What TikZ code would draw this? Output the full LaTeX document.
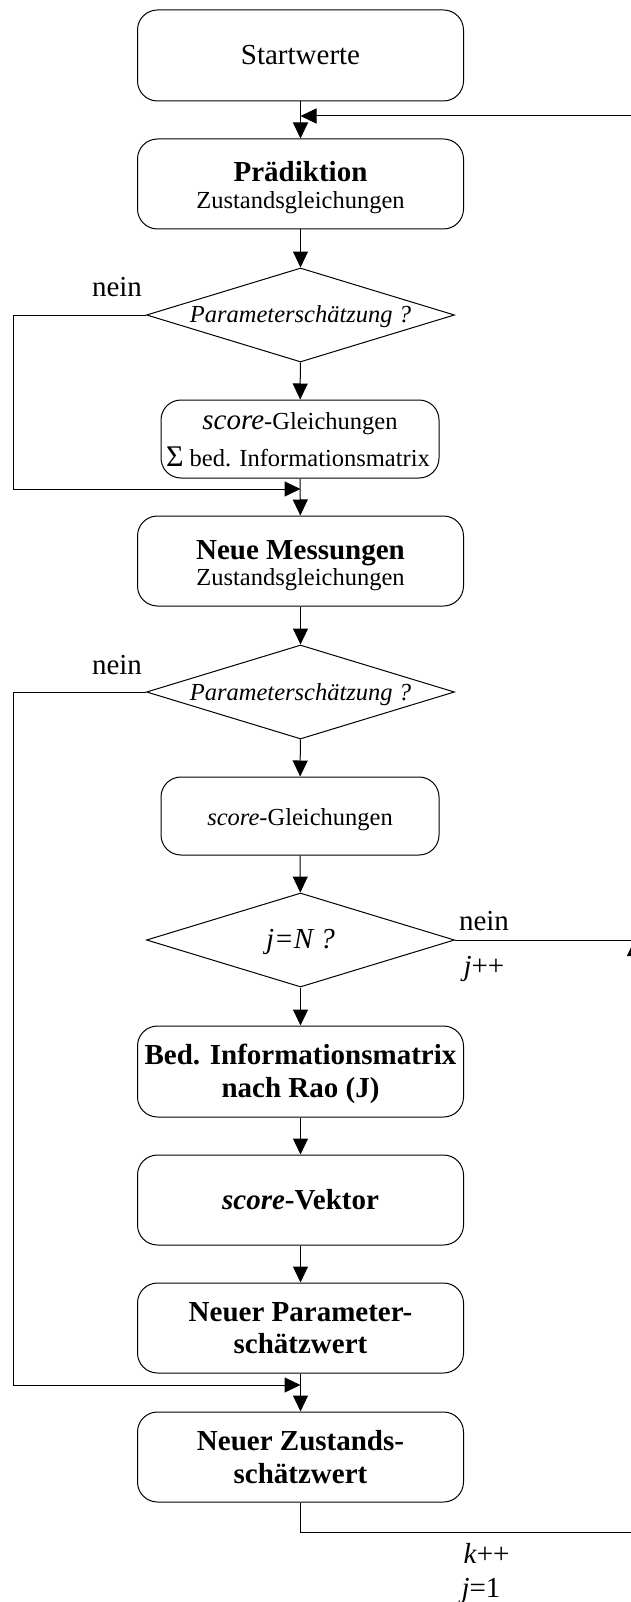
\documentclass[tikz,border=0pt]{standalone}
\usepackage{fontspec}
\setmainfont{Liberation Serif}
\usetikzlibrary{shapes.geometric,arrows.meta}
\begin{document}
\begin{tikzpicture}[x=1pt,y=-1pt,
  line width=1pt,
  arr/.style={-{Triangle[length=16pt,width=15pt]}},
  bigbox/.style={draw, rectangle, rounded corners=20pt, minimum width=326pt, minimum height=90pt, inner sep=0pt},
  smallbox/.style={draw, rectangle, rounded corners=20pt, minimum width=278pt, minimum height=78pt, inner sep=0pt},
  decision/.style={draw, diamond, minimum width=308pt, minimum height=94pt, inner sep=0pt},
  big/.style={font=\fontsize{29}{33}\selectfont, inner sep=0pt, anchor=base},
  bigb/.style={font=\fontsize{29}{33}\selectfont\bfseries, inner sep=0pt, anchor=base},
  small/.style={font=\fontsize{24.5}{28}\selectfont, inner sep=0pt, anchor=base},
]
\useasboundingbox (0,0) rectangle (631,1602);
\clip (0,0) rectangle (631,1602);

% boxes
\node[bigbox, minimum height=91pt] (start) at (300.5,55.5) {};
\node[bigbox] (praed) at (300.5,184) {};
\node[decision] (d1) at (300.5,315) {};
\node[smallbox] (s1) at (300,439) {};
\node[bigbox] (nm) at (300.5,561) {};
\node[decision] (d2) at (300.5,692) {};
\node[smallbox] (s2) at (300,816) {};
\node[decision] (d3) at (300.5,940) {};
\node[bigbox, minimum height=91pt] (bed) at (300.5,1071.5) {};
\node[bigbox] (vek) at (300.5,1200) {};
\node[bigbox] (np) at (300.5,1328) {};
\node[bigbox] (nz) at (300.5,1457) {};

% texts
\node[big] (t0) at (300.5,65) {Startwerte};
\node[bigb] (t1a) at (300.5,182) {Prädiktion};
\node[small] (t1b) at (300.5,208.5) {Zustandsgleichungen};
\node[small] (t2) at (300.5,322.5) {\itshape Parameterschätzung ?};
\node[small] (t3a) at (300,429) {{\fontsize{29}{33}\selectfont\itshape score}-Gleichungen};
\node[small] (t3b) at (298,466.5) {{\fontsize{30}{33}\selectfont Σ} bed. Informationsmatrix};
\node[bigb] (t4a) at (300.5,559) {Neue Messungen};
\node[small] (t4b) at (300.5,585.5) {Zustandsgleichungen};
\node[small] (t5) at (300.5,700) {\itshape Parameterschätzung ?};
\node[small] (t6) at (300,825) {\textit{score}-Gleichungen};
\node[big] (t7) at (300.5,948) {\itshape j=N ?};
\node[bigb] (t8a) at (300.5,1064) {Bed. Informationsmatrix};
\node[bigb] (t8b) at (300.5,1097.7) {nach Rao (J)};
\node[bigb] (t9) at (300.5,1209.5) {\textit{score}-Vektor};
\node[bigb] (t10a) at (300.5,1321) {Neuer Parameter-};
\node[bigb] (t10b) at (300.5,1353.5) {schätzwert};
\node[bigb] (t11a) at (300.5,1450) {Neuer Zustands-};
\node[bigb] (t11b) at (300.5,1483) {schätzwert};

% labels
\node[big] (n1) at (117,296.7) {nein};
\node[big] (n2) at (117,674) {nein};
\node[big] (n3) at (484,930) {nein};
\node[big, anchor=base west] (jpp) at (463,975) {\textit{j}++};
\node[big, anchor=base west] (kpp) at (463,1563) {\textit{k}++};
\node[big, anchor=base west] (j1l) at (461,1597) {\textit{j}=1};

% coordinates
\coordinate (top) at (300.5,116);
\coordinate (rtop) at (634.5,116);
\coordinate (rmid) at (634.5,940);
\coordinate (rbot) at (634.5,1532);
\coordinate (nzb) at (300.5,1532);
\coordinate (j1) at (300.5,489);
\coordinate (j2) at (300.5,1385);
\coordinate (l1a) at (13,315);
\coordinate (l1b) at (13,489);
\coordinate (l2a) at (13,692);
\coordinate (l2b) at (13,1385);

% connectors
\draw[arr] (start) -- (praed);
\draw[arr] (rmid) -- (rtop) -- (top);
\draw[arr] (nz) -- (nzb) -- (rbot) -- (rmid);
\draw (d3) -- (rmid);
\draw[arr] (praed) -- (d1);
\draw[arr] (d1) -- (s1);
\draw[arr] (s1) -- (nm);
\draw[arr] (d1) -- (l1a) -- (l1b) -- (j1);
\draw[arr] (nm) -- (d2);
\draw[arr] (d2) -- (s2);
\draw[arr] (s2) -- (d3);
\draw[arr] (d2) -- (l2a) -- (l2b) -- (j2);
\draw[arr] (d3) -- (bed);
\draw[arr] (bed) -- (vek);
\draw[arr] (vek) -- (np);
\draw[arr] (np) -- (nz);
\end{tikzpicture}
\end{document}
